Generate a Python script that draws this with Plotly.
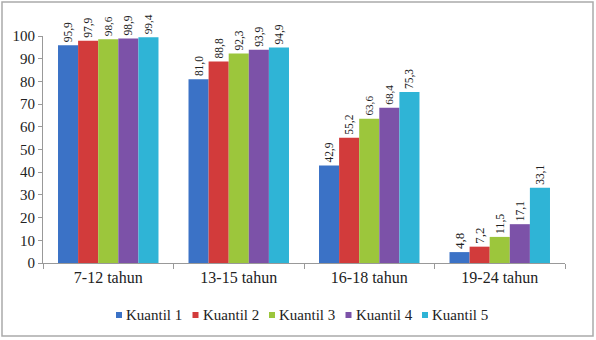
import plotly.graph_objects as go

categories = ["7-12 tahun", "13-15 tahun", "16-18 tahun", "19-24 tahun"]
series_names = ["Kuantil 1", "Kuantil 2", "Kuantil 3", "Kuantil 4", "Kuantil 5"]
kuantil1 = [95.9, 81.0, 42.9, 4.8]
kuantil2 = [97.9, 88.8, 55.2, 7.2]
kuantil3 = [98.6, 92.3, 63.6, 11.5]
kuantil4 = [98.9, 93.9, 68.4, 17.1]
kuantil5 = [99.4, 94.9, 75.3, 33.1]
y_ticks = [0, 10, 20, 30, 40, 50, 60, 70, 80, 90, 100]

colors = ["#3B72C6", "#D23B3B", "#9CC63C", "#7C52A8", "#2FB4D6"]
serif = "Liberation Serif"

W, H = 596, 340
ml, mr, mt, mb = 43, 31, 36, 77
pw = W - ml - mr
ph = H - mt - mb

def px_x(x):
    return (x - ml) / pw

def px_y(y):
    return (H - mb - y) / ph

fig = go.Figure()
for name, vals, c in zip(series_names, [kuantil1, kuantil2, kuantil3, kuantil4, kuantil5], colors):
    fig.add_trace(go.Bar(
        x=categories, y=vals, name=name,
        marker=dict(color=c, line=dict(width=0)),
        text=[f"{v:.1f}".replace(".", ",") for v in vals],
        textposition="outside", textangle=-90,
        textfont=dict(family=serif, size=13, color="#222222"),
        cliponaxis=False, showlegend=False,
    ))

# outer frame
fig.add_shape(type="rect", xref="paper", yref="paper",
              x0=px_x(2), x1=px_x(593), y0=px_y(336), y1=px_y(2),
              line=dict(color="#AAAAAA", width=1.5), layer="below")

# compact legend like the reference
leg_x0, leg_step, leg_y = 116, 76.5, 315
for i, (name, c) in enumerate(zip(series_names, colors)):
    sx = leg_x0 + i * leg_step
    fig.add_shape(type="rect", xref="paper", yref="paper",
                  x0=px_x(sx), x1=px_x(sx + 6), y0=px_y(leg_y + 3), y1=px_y(leg_y - 3),
                  fillcolor=c, line=dict(width=0))
    fig.add_annotation(xref="paper", yref="paper", x=px_x(sx + 8), y=px_y(leg_y),
                       xanchor="left", yanchor="middle", showarrow=False,
                       text=name, font=dict(family=serif, size=15, color="#222222"))

fig.update_layout(
    template="none",
    width=W, height=H,
    margin=dict(l=ml, r=mr, t=mt, b=mb),
    paper_bgcolor="white", plot_bgcolor="white",
    barmode="group", bargap=0.23, bargroupgap=0.0,
    showlegend=False,
    xaxis=dict(showline=True, linecolor="#999999", linewidth=1, ticks="outside",
               tickson="boundaries", ticklen=5, tickcolor="#999999",
               tickfont=dict(family=serif, size=16, color="#222222"), showgrid=False),
    yaxis=dict(range=[0, 100], tickvals=y_ticks, showline=True, linecolor="#999999",
               linewidth=1, ticks="outside", ticklen=4, tickcolor="#999999",
               tickfont=dict(family=serif, size=15, color="#222222"),
               showgrid=False, zeroline=False),
)

fig.write_html("out.html")
